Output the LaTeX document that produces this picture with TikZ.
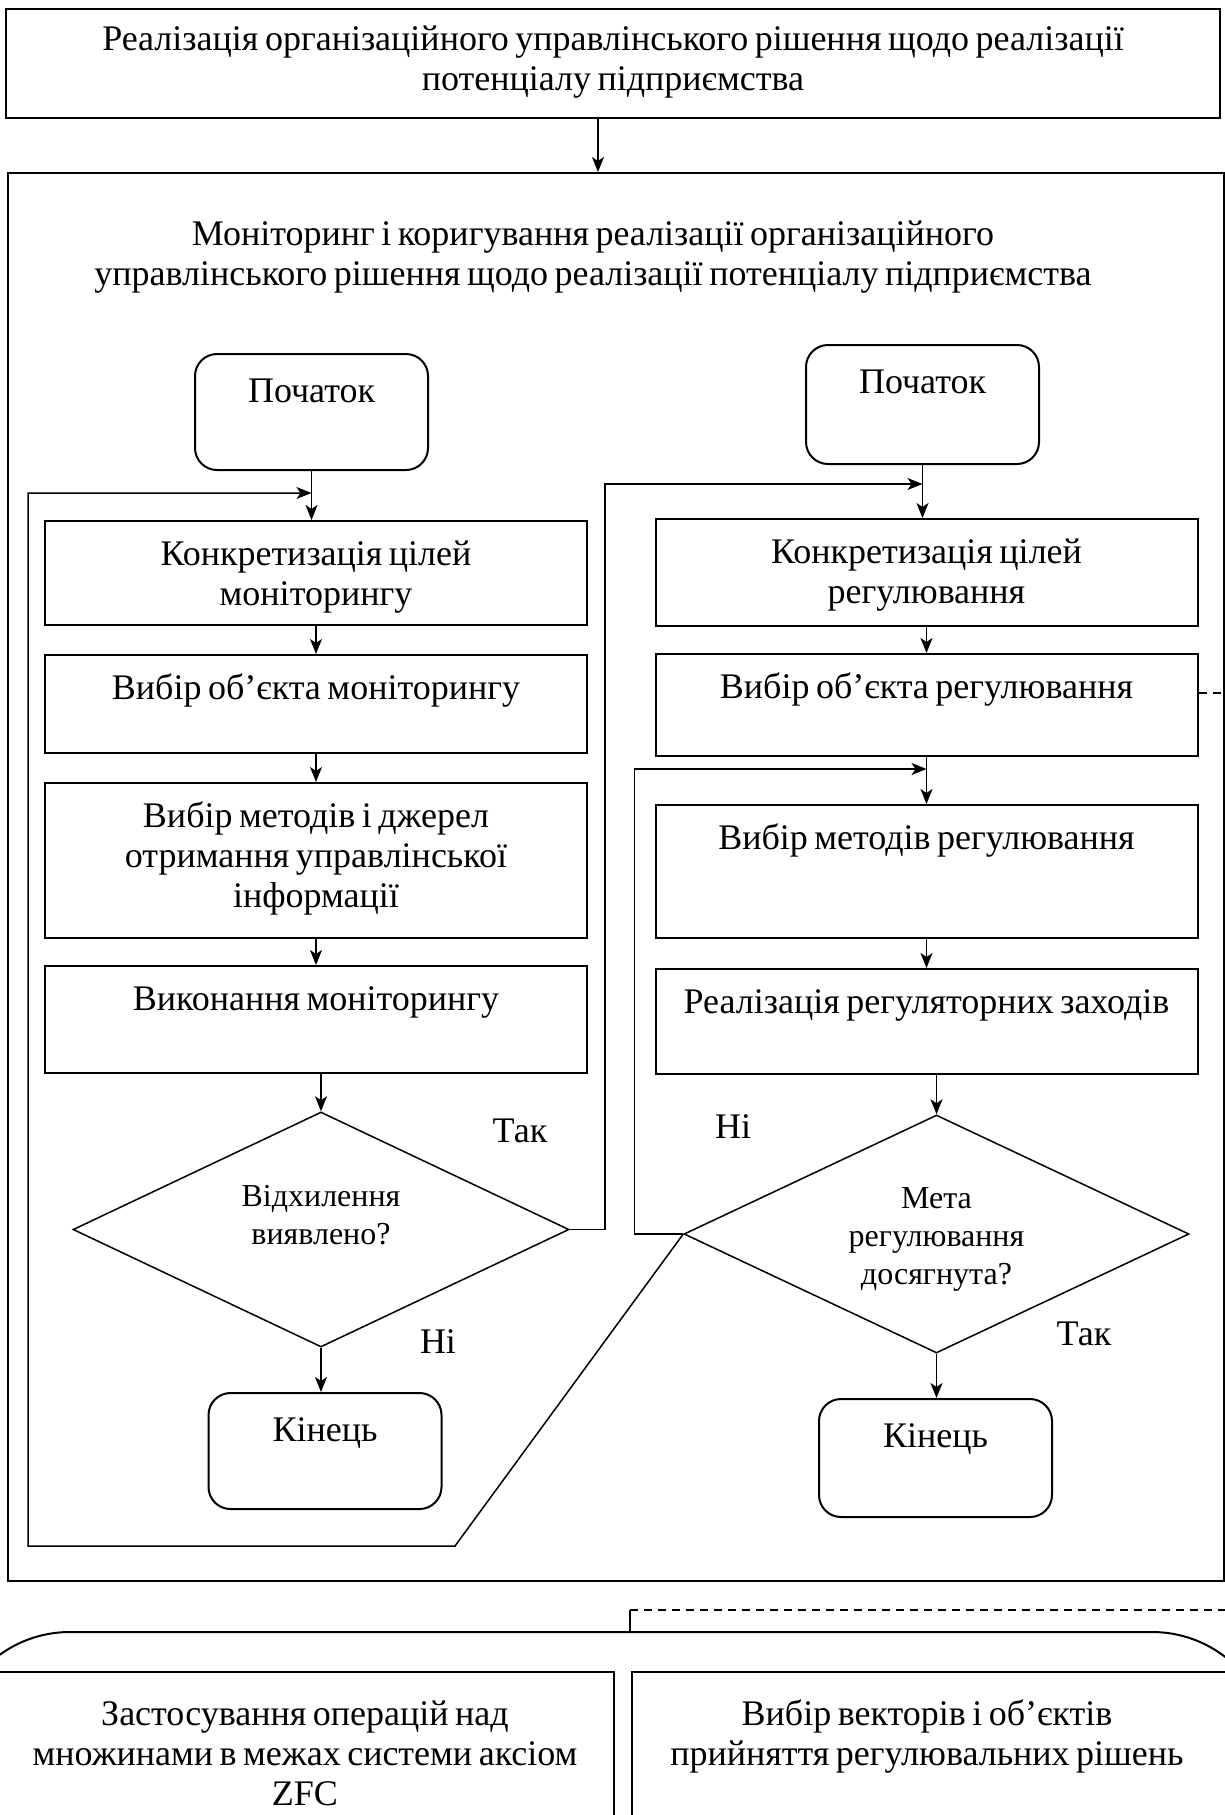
\documentclass[tikz,border=0pt]{standalone}
\usepackage{fontspec}
\setmainfont{Liberation Serif}
\usetikzlibrary{shapes.geometric,arrows.meta,positioning}
\newcommand\tightwords{\spaceskip 6.5pt\relax}

\begin{document}
\begin{tikzpicture}[x=1pt,y=-1pt,line width=1.5pt,
    >={Stealth[length=15pt,width=12pt,inset=4pt]}]
    \tikzstyle{box}=[draw,line width=2pt,inner sep=0pt]
    \tikzstyle{process}=[box,minimum width=542pt]
    \tikzstyle{term}=[box,rounded corners=22pt,minimum width=233pt]
    \tikzstyle{decision}=[diamond,draw,line width=1.5pt,inner sep=0pt,aspect=2]
    \tikzstyle{txt}=[anchor=base,inner sep=0pt,text width=580pt,align=center,
        font=\fontsize{36}{40}\selectfont,execute at begin node=\tightwords]
    \tikzstyle{dtxt}=[txt,text width=320pt,font=\fontsize{32}{38}\selectfont]
    \tikzstyle{answer}=[anchor=base,inner sep=0pt,font=\fontsize{36}{40}\selectfont]

    \fill[white] (0,0) rectangle (1225,1815);
    \useasboundingbox (0,0) rectangle (1225,1815);
    \clip (0,0) rectangle (1225,1815);

    % Draw the decision on top and the monitoring frame
    \node[box,minimum width=1214pt,minimum height=109pt] (goal) at (613,63) {};
    \node[txt,text width=1180pt] (goal-t) at ([yshift=-43pt]goal.north)
        {Реалізація організаційного управлінського рішення щодо реалізації\\потенціалу підприємства};
    \node[box,minimum width=1216pt,minimum height=1408pt] (mon) at (616,877) {};
    \node[txt,text width=1180pt] (mon-t) at (593,245)
        {Моніторинг і коригування реалізації організаційного\\управлінського рішення щодо реалізації потенціалу підприємства};
    \draw[->] (goal.south -| 598,0) -- (mon.north -| 598,0);

    % Draw the start and end blocks
    \foreach \name/\x/\y/\h/\txt in {lstart/311.5/412/116/Початок, rstart/922.5/404.5/119/Початок,
                                     lend/325/1451/116/Кінець, rend/935.5/1458/118/Кінець}
    {
        \node[term,minimum height=\h pt] (\name) at (\x,\y) {};
        \node[txt] (\name-t) at ([yshift=-49pt]\name.north) {\txt};
    }

    % Draw the monitoring steps (left) and the regulating steps (right)
    \foreach \name/\x/\y/\h/\txt in {
        b1/316/573/104/{Конкретизація цілей\\моніторингу},
        b2/316/704/98/{Вибір об’єкта моніторингу},
        b3/316/860.5/155/{Вибір методів і джерел\\отримання управлінської\\інформації},
        b4/316/1019.5/107/{Виконання моніторингу},
        r1/926.5/572.5/107/{Конкретизація цілей\\регулювання},
        r2/926.5/705/102/{Вибір об’єкта регулювання},
        r3/926.5/871.5/133/{Вибір методів регулювання},
        r4/926.5/1021.5/105/{Реалізація регуляторних заходів}}
    {
        \node[process,minimum height=\h pt] (\name) at (\x,\y) {};
        \node[txt] (\name-t) at ([yshift=-45pt]\name.north) {\txt};
    }

    % Draw the two checks
    \node[decision,minimum width=496pt,minimum height=235pt] (ld) at (321,1229.5) {};
    \node[dtxt] (ld-t) at (321,1206) {Відхилення\\виявлено?};
    \node[decision,minimum width=505pt,minimum height=238pt] (rd) at (936.5,1234) {};
    \node[dtxt] (rd-t) at (936.5,1208) {Мета\\регулювання\\досягнута?};

    \node[answer] (ld-yes) at (520,1142) {Так};
    \node[answer] (ld-no) at (438,1353) {Ні};
    \node[answer] (rd-no) at (733,1138) {Ні};
    \node[answer] (rd-yes) at (1084,1345) {Так};

    % Connect the steps of each column
    \draw[->] (lstart.south) -- (b1.north -| lstart.south);
    \draw[->] (b1.south) -- (b2.north);
    \draw[->] (b2.south) -- (b3.north);
    \draw[->] (b3.south) -- (b4.north);
    \draw[->] (b4.south -| ld.north) -- (ld.north);
    \draw[->] (ld.south) -- (lend.north -| ld.south);

    \draw[->] (rstart.south) -- (r1.north -| rstart.south);
    \draw[->] (r1.south) -- (r2.north);
    \draw[->] (r2.south) -- (r3.north);
    \draw[->] (r3.south) -- (r4.north);
    \draw[->] (r4.south -| rd.north) -- (rd.north);
    \draw[->] (rd.south) -- (rend.north -| rd.south);

    % Feedback lines
    \coordinate (ljoin) at (lstart.south |- 0,493);
    \coordinate (rjoin) at (rstart.south |- 0,484);
    \coordinate (r3join) at (r2.south |- 0,769);
    \draw[->] (ld.east) -- ++(35,0) |- (rjoin);
    \draw[->] (rd.west) -- ++(-49,0) |- (r3join);
    \draw[->] (rd.west) -- (455,1546) -- (28,1546) |- (ljoin);
    \draw[dashed,dash pattern=on 8pt off 6pt,line width=1.2pt]
        ([yshift=12pt]r2.east) -- ([yshift=12pt]r2.east -| mon.east);

    % Lower block
    \node[box,rounded corners=120pt,minimum width=1322pt,minimum height=400pt] (sets) at (611,1832) {};
    \coordinate (link) at (630,1610);
    \coordinate (edge) at (1230,1610);
    \draw[line width=1.2pt] (sets.north -| link) -- (link);
    \draw[dashed,dash pattern=on 8pt off 6pt,line width=1.2pt] (link) -- (edge);

    \node[box,minimum width=617pt,minimum height=300pt] (zfc) at (305.5,1822) {};
    \node[txt,text width=640pt] (zfc-t) at (305,1725)
        {Застосування операцій над\\множинами в межах системи аксіом\\ZFC};
    \node[box,minimum width=600pt,minimum height=300pt] (vec) at (932,1822) {};
    \node[txt] (vec-t) at (927,1725)
        {Вибір векторів і об’єктів\\прийняття регулювальних рішень};
\end{tikzpicture}
\end{document}
